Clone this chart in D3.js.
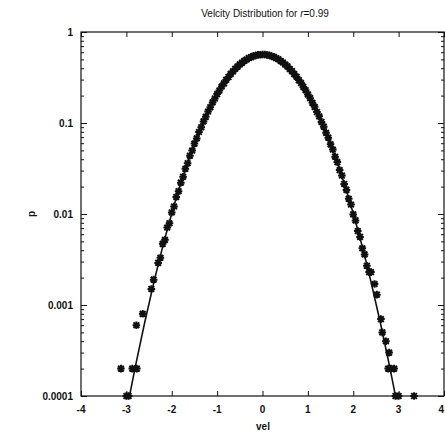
<!DOCTYPE html>
<html>
<head>
<meta charset="utf-8">
<script src="https://cdn.jsdelivr.net/npm/d3@7"></script>
<style>
    html, body { margin: 0; padding: 0; background: #fff; }
    svg { display: block; }
    text { font-family: "Liberation Sans", Arial, sans-serif; fill: #111; }
</style>
</head>
<body>
<div id="chart"></div>
<script>

//측정값 (히스토그램 점)
var velBins = [
    -3.12, -3.00, -2.95, -2.87, -2.77, -2.78, -2.64, -2.45, -2.40,
    -2.30, -2.25, -2.20, -2.15, -2.10, -2.05, -2.00, -1.95, -1.90, -1.85,
    -1.80, -1.75, -1.70, -1.65, -1.60, -1.55, -1.50, -1.45, -1.40, -1.35,
    -1.30, -1.25, -1.20, -1.15, -1.10, -1.05, -1.00, -0.95, -0.90, -0.85,
    -0.80, -0.75, -0.70, -0.65, -0.60, -0.55, -0.50, -0.45, -0.40, -0.35,
    -0.30, -0.25, -0.20, -0.15, -0.10, -0.05, 0.00,
    0.05, 0.10, 0.15, 0.20, 0.25, 0.30, 0.35, 0.40, 0.45, 0.50,
    0.55, 0.60, 0.65, 0.70, 0.75, 0.80, 0.85, 0.90, 0.95, 1.00,
    1.05, 1.10, 1.15, 1.20, 1.25, 1.30, 1.35, 1.40, 1.45, 1.50,
    1.55, 1.60, 1.65, 1.70, 1.75, 1.80, 1.85, 1.90, 1.95, 2.00,
    2.05, 2.10, 2.15, 2.20, 2.25, 2.30, 2.35,
    2.39, 2.47, 2.52, 2.61, 2.64, 2.72, 2.79, 2.77, 2.83, 2.90, 2.93, 3.00, 3.34
];

var pMeasured = [
    0.0002, 0.0001, 0.0001, 0.0002, 0.0002, 0.0006, 0.0008, 0.0015, 0.0019,
    0.0029, 0.0033, 0.0047, 0.0052, 0.0071, 0.0079, 0.0104, 0.0121, 0.0154, 0.0178,
    0.0221, 0.0257, 0.0314, 0.0361, 0.0437, 0.0498, 0.0594, 0.0677, 0.0795, 0.0898,
    0.1041, 0.1168, 0.1337, 0.1489, 0.1683, 0.1859, 0.2078, 0.2275, 0.2514, 0.2727,
    0.2984, 0.3203, 0.3468, 0.3689, 0.3952, 0.4161, 0.4413, 0.4602, 0.4831, 0.4989,
    0.5182, 0.5301, 0.5449, 0.5521, 0.5617, 0.5633, 0.5668,
    0.5652, 0.5590, 0.5547, 0.5422, 0.5327, 0.5155, 0.5016, 0.4804, 0.4630, 0.4388,
    0.4187, 0.3927, 0.3713, 0.3444, 0.3226, 0.2961, 0.2748, 0.2494, 0.2294, 0.2061,
    0.1876, 0.1666, 0.1505, 0.1321, 0.1183, 0.1027, 0.0912, 0.0781, 0.0690, 0.0583,
    0.0511, 0.0426, 0.0372, 0.0304, 0.0265, 0.0214, 0.0184, 0.0147, 0.0127, 0.0099,
    0.0085, 0.0065, 0.0056, 0.0042, 0.0036, 0.0027, 0.0023,
    0.0023, 0.0017, 0.0013, 0.0007, 0.0005, 0.0004, 0.0003, 0.0002, 0.0002, 0.0002, 0.0001, 0.0001, 0.0001
];

//가우시안 실선
var fitVel = [
    -3.0, -2.8, -2.6, -2.4, -2.2, -2.0, -1.8, -1.6, -1.4, -1.2, -1.0, -0.8, -0.6, -0.4, -0.2,
    0.0, 0.2, 0.4, 0.6, 0.8, 1.0, 1.2, 1.4, 1.6, 1.8, 2.0, 2.2, 2.4, 2.6, 2.8, 3.0
];
var fitP = [
    0.0000662, 0.000213, 0.000630, 0.00172, 0.00435, 0.01012, 0.02174, 0.0431, 0.0788, 0.1329,
    0.2070, 0.2973, 0.3940, 0.4818, 0.5436,
    0.566,
    0.5436, 0.4818, 0.3940, 0.2973, 0.2070, 0.1329, 0.0788, 0.0431, 0.02174, 0.01012,
    0.00435, 0.00172, 0.000630, 0.000213, 0.0000662
];

var xTicks = [-4, -3, -2, -1, 0, 1, 2, 3, 4];
var yTicks = [1, 0.1, 0.01, 0.001, 0.0001];
var yTickLabels = ["1", "0.1", "0.01", "0.001", "0.0001"];

var App = {
    width : 445,
    height : 434,
    plot : { left : 81, right : 444, top : 32, bottom : 396 }
};

var svg = d3.select('#chart').append('svg')
    .attr('width', App.width)
    .attr('height', App.height);

var x = d3.scaleLinear().domain([-4, 4]).range([App.plot.left, App.plot.right]);
var y = d3.scaleLog().domain([0.0001, 1]).range([App.plot.bottom, App.plot.top]);

svg.append('clipPath')
    .attr('id', 'plot-clip')
    .append('rect')
    .attr('x', App.plot.left)
    .attr('y', App.plot.top)
    .attr('width', App.plot.right - App.plot.left)
    .attr('height', App.plot.bottom - App.plot.top);

//프레임
svg.append('rect')
    .attr('x', App.plot.left)
    .attr('y', App.plot.top)
    .attr('width', App.plot.right - App.plot.left)
    .attr('height', App.plot.bottom - App.plot.top)
    .style('fill', 'none')
    .style('stroke', '#111')
    .style('stroke-width', 1.2);

//축 눈금 (안쪽으로)
var gAxes = svg.append('g').attr('class', 'axes');

gAxes.append('g')
    .attr('transform', 'translate(0,' + App.plot.bottom + ')')
    .call(d3.axisBottom(x).tickValues(xTicks).tickSize(-5).tickFormat(''));
gAxes.append('g')
    .attr('transform', 'translate(0,' + App.plot.top + ')')
    .call(d3.axisTop(x).tickValues(xTicks).tickSize(-5).tickFormat(''));

var minorY = [];
yTicks.forEach(function(t) {
    for (var k = 2; k <= 9; k++) {
        if (t * k < 1) minorY.push(t * k);
    }
});

gAxes.append('g')
    .attr('transform', 'translate(' + App.plot.left + ',0)')
    .call(d3.axisLeft(y).tickValues(yTicks).tickSize(-6).tickFormat(''));
gAxes.append('g')
    .attr('transform', 'translate(' + App.plot.left + ',0)')
    .call(d3.axisLeft(y).tickValues(minorY).tickSize(-3).tickFormat(''));
gAxes.append('g')
    .attr('transform', 'translate(' + App.plot.right + ',0)')
    .call(d3.axisRight(y).tickValues(yTicks).tickSize(-6).tickFormat(''));
gAxes.append('g')
    .attr('transform', 'translate(' + App.plot.right + ',0)')
    .call(d3.axisRight(y).tickValues(minorY).tickSize(-3).tickFormat(''));

gAxes.selectAll('.domain').remove();
gAxes.selectAll('.tick line').style('stroke', '#111').style('stroke-width', 1);

//눈금 라벨 (오른쪽 끝 "4"는 창 안에 들어오게)
svg.append('g').selectAll('text')
    .data(xTicks)
    .enter().append('text')
    .attr('x', function(d) { return d === 4 ? App.width - 1 : x(d); })
    .attr('y', 413)
    .attr('text-anchor', function(d) { return d === 4 ? 'end' : 'middle'; })
    .style('font-size', '10px')
    .style('font-weight', 'bold')
    .text(function(d) { return d; });

svg.append('g').selectAll('text')
    .data(yTicks)
    .enter().append('text')
    .attr('x', 73)
    .attr('y', function(d) { return y(d) + 3.5; })
    .attr('text-anchor', 'end')
    .style('font-size', '10px')
    .style('font-weight', 'bold')
    .text(function(d, i) { return yTickLabels[i]; });

//제목, 축 이름
var title = svg.append('text')
    .attr('x', 265)
    .attr('y', 17)
    .attr('text-anchor', 'middle')
    .style('font-size', '10px');
title.append('tspan').text('Velcity Distribution for ');
title.append('tspan').style('font-style', 'italic').text('r');
title.append('tspan').text('=0.99');

svg.append('text')
    .attr('x', 263)
    .attr('y', 430)
    .attr('text-anchor', 'middle')
    .style('font-size', '10px')
    .style('font-weight', 'bold')
    .text('vel');

svg.append('text')
    .attr('transform', 'translate(35,214) rotate(-90)')
    .attr('text-anchor', 'middle')
    .style('font-size', '10px')
    .style('font-weight', 'bold')
    .text('p');

//가우시안 선
var fitData = fitVel.map(function(v, i) { return [v, fitP[i]]; });

svg.append('path')
    .datum(fitData)
    .attr('clip-path', 'url(#plot-clip)')
    .attr('d', d3.line()
        .x(function(d) { return x(d[0]); })
        .y(function(d) { return y(d[1]); })
        .curve(d3.curveCatmullRom))
    .style('fill', 'none')
    .style('stroke', '#111')
    .style('stroke-width', 1.6);

//별표 점
var r = 3.8;
var starPath = 'M' + (-r) + ',0L' + r + ',0M0,' + (-r) + 'L0,' + r +
    'M' + (-r * 0.75) + ',' + (-r * 0.75) + 'L' + (r * 0.75) + ',' + (r * 0.75) +
    'M' + (-r * 0.75) + ',' + (r * 0.75) + 'L' + (r * 0.75) + ',' + (-r * 0.75);

svg.append('g').selectAll('path')
    .data(velBins)
    .enter().append('path')
    .attr('transform', function(d, i) { return 'translate(' + x(d) + ',' + y(pMeasured[i]) + ')'; })
    .attr('d', starPath)
    .style('fill', 'none')
    .style('stroke', '#111')
    .style('stroke-width', 2);

</script>
</body>
</html>
